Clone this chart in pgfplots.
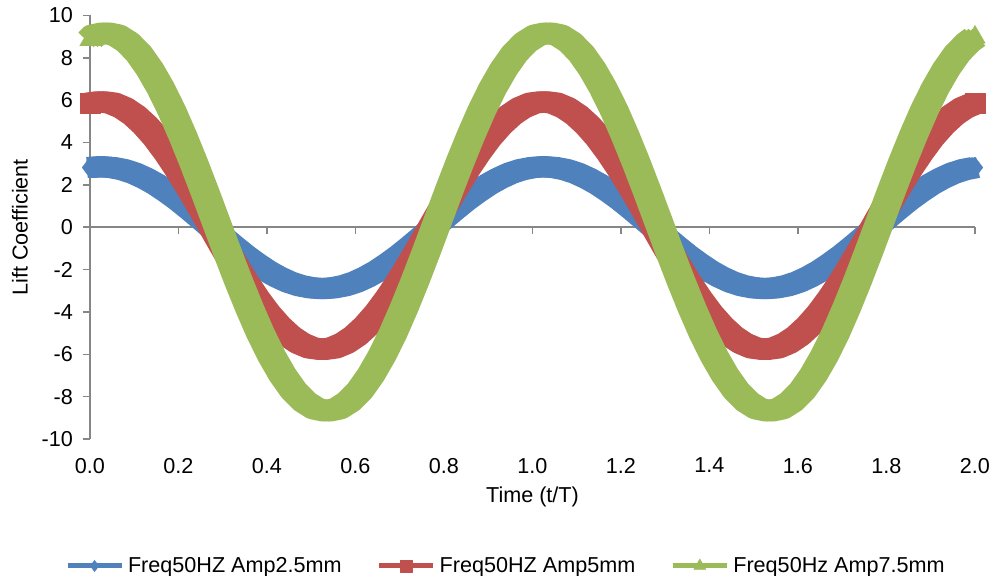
\documentclass[border=0pt]{standalone}
\usepackage{pgfplots}
\pgfplotsset{compat=1.18}
\usepackage{pgfplotstable}
\usepackage{fontspec}
\setmainfont{Liberation Sans}
\definecolor{xblue}{HTML}{4F81BD}
\definecolor{xred}{HTML}{C0504D}
\definecolor{xgreen}{HTML}{9BBB59}
\definecolor{axisgray}{HTML}{868686}
\newcommand{\cf}{\fontsize{10.8}{13}\selectfont}

\pgfplotstableread{
t b r
0.000 2.82 5.86
0.025 2.86 5.93
0.050 2.82 5.86
0.075 2.72 5.64
0.100 2.55 5.29
0.125 2.31 4.81
0.150 2.02 4.22
0.175 1.67 3.52
0.200 1.29 2.74
0.225 0.87 1.89
0.250 0.43 1.00
0.275 -0.02 0.08
0.300 -0.47 -0.84
0.325 -0.91 -1.73
0.350 -1.33 -2.58
0.375 -1.71 -3.36
0.400 -2.06 -4.06
0.425 -2.35 -4.65
0.450 -2.59 -5.13
0.475 -2.76 -5.48
0.500 -2.86 -5.70
0.525 -2.90 -5.77
0.550 -2.86 -5.70
0.575 -2.76 -5.48
0.600 -2.59 -5.13
0.625 -2.35 -4.65
0.650 -2.06 -4.06
0.675 -1.71 -3.36
0.700 -1.33 -2.58
0.725 -0.91 -1.73
0.750 -0.47 -0.84
0.775 -0.02 0.08
0.800 0.43 1.00
0.825 0.87 1.89
0.850 1.29 2.74
0.875 1.67 3.52
0.900 2.02 4.22
0.925 2.31 4.81
0.950 2.55 5.29
0.975 2.72 5.64
1.000 2.82 5.86
1.025 2.86 5.93
1.050 2.82 5.86
1.075 2.72 5.64
1.100 2.55 5.29
1.125 2.31 4.81
1.150 2.02 4.22
1.175 1.67 3.52
1.200 1.29 2.74
1.225 0.87 1.89
1.250 0.43 1.00
1.275 -0.02 0.08
1.300 -0.47 -0.84
1.325 -0.91 -1.73
1.350 -1.33 -2.58
1.375 -1.71 -3.36
1.400 -2.06 -4.06
1.425 -2.35 -4.65
1.450 -2.59 -5.13
1.475 -2.76 -5.48
1.500 -2.86 -5.70
1.525 -2.90 -5.77
1.550 -2.86 -5.70
1.575 -2.76 -5.48
1.600 -2.59 -5.13
1.625 -2.35 -4.65
1.650 -2.06 -4.06
1.675 -1.71 -3.36
1.700 -1.33 -2.58
1.725 -0.91 -1.73
1.750 -0.47 -0.84
1.775 -0.02 0.08
1.800 0.43 1.00
1.825 0.87 1.89
1.850 1.29 2.74
1.875 1.67 3.52
1.900 2.02 4.22
1.925 2.31 4.81
1.950 2.55 5.29
1.975 2.72 5.64
2.000 2.82 5.86
}\tabBR

\pgfplotstableread{
t g
0.000 8.85
0.010 9.07
0.035 9.18
0.060 9.07
0.085 8.74
0.110 8.21
0.135 7.47
0.160 6.56
0.185 5.50
0.210 4.30
0.235 3.01
0.260 1.65
0.285 0.25
0.310 -1.15
0.335 -2.51
0.360 -3.80
0.385 -5.00
0.410 -6.06
0.435 -6.97
0.460 -7.71
0.485 -8.24
0.510 -8.57
0.535 -8.68
0.560 -8.57
0.585 -8.24
0.610 -7.71
0.635 -6.97
0.660 -6.06
0.685 -5.00
0.710 -3.80
0.735 -2.51
0.760 -1.15
0.785 0.25
0.810 1.65
0.835 3.01
0.860 4.30
0.885 5.50
0.910 6.56
0.935 7.47
0.960 8.21
0.985 8.74
1.010 9.07
1.035 9.18
1.060 9.07
1.085 8.74
1.110 8.21
1.135 7.47
1.160 6.56
1.185 5.50
1.210 4.30
1.235 3.01
1.260 1.65
1.285 0.25
1.310 -1.15
1.335 -2.51
1.360 -3.80
1.385 -5.00
1.410 -6.06
1.435 -6.97
1.460 -7.71
1.485 -8.24
1.510 -8.57
1.535 -8.68
1.560 -8.57
1.585 -8.24
1.610 -7.71
1.635 -6.97
1.660 -6.06
1.685 -5.00
1.710 -3.80
1.735 -2.51
1.760 -1.15
1.785 0.25
1.810 1.65
1.835 3.01
1.860 4.30
1.885 5.50
1.910 6.56
1.935 7.47
1.960 8.21
1.985 8.74
2.000 8.97
}\tabG

\pgfplotsset{
  band/.style={line width=10.5pt, line join=round, line cap=butt},
}

\begin{document}
\begin{tikzpicture}
\useasboundingbox (-45pt,-68.5pt) rectangle (454pt,219.5pt);
\begin{axis}[
  scale only axis,
  width=442.5pt, height=211.75pt,
  xmin=0, xmax=2, ymin=-10, ymax=10,
  clip=false,
  axis y line*=left,
  axis x line*=bottom,
  x axis line style={draw=none},
  y axis line style={draw=axisgray, line width=0.75pt},
  xtick={0,0.2,0.4,0.6,0.8,1.0,1.2,1.4,1.6,1.8,2.0},
  ytick={-10,-8,-6,-4,-2,0,2,4,6,8,10},
  x tick style={draw=none},
  y tick style={draw=axisgray, line width=0.75pt},
  tick align=outside,
  major tick length=3.5pt,
  /pgf/number format/assume math mode=true,
  xticklabel style={font=\cf, yshift=-2.5pt, /pgf/number format/.cd, fixed, fixed zerofill, precision=1},
  yticklabel style={font=\cf, xshift=-1.5pt},
  every axis x label/.style={at={(axis description cs:0.5,0)}, yshift=-29pt, anchor=center, font=\cf},
  every axis y label/.style={at={(axis description cs:0,0.5)}, xshift=-35pt, rotate=90, anchor=center, font=\cf},
  xlabel={Time (t/T)},
  ylabel={Lift Coefficient},
  legend columns=3,
  legend cell align=left,
  legend style={draw=none, fill=none, font=\cf,
    at={(axis description cs:0.471,0)}, yshift=-63.5pt, anchor=center,
    /tikz/every even column/.append style={column sep=15.5pt}},
]
\draw[axisgray, line width=0.75pt] (axis cs:0,0) -- (axis cs:2,0);
\pgfplotsinvokeforeach{0.2,0.4,0.6,0.8,1.0,1.2,1.4,1.6,1.8,2.0}{
  \draw[axisgray, line width=0.75pt] (axis cs:#1,0) -- ++(0pt,-3.5pt);
}
% blue
\addplot[color=xblue, band, xshift=-1.5pt, forget plot] table[x=t, y=b] {\tabBR};
\addplot[color=xblue, band, xshift=1.5pt, forget plot] table[x=t, y=b] {\tabBR};
\addplot[color=xblue, band, mark=diamond*, mark size=5.3pt, mark indices={1,81},
  mark options={solid, line width=0.1pt, draw=xblue, fill=xblue},
  legend image code/.code={\draw[line width=2.5pt, mark indices={2}, mark size=2.9pt, mark options={line width=0.1pt}] plot coordinates {(0pt,0pt) (13.5pt,0pt) (27pt,0pt)};}]
  table[x=t, y=b] {\tabBR};
\addlegendentry{Freq50HZ Amp2.5mm}
% red
\addplot[color=xred, band, xshift=-2pt, forget plot] table[x=t, y=r] {\tabBR};
\addplot[color=xred, band, xshift=2pt, forget plot] table[x=t, y=r] {\tabBR};
\addplot[color=xred, band, mark=square*, mark size=5pt, mark indices={1,81},
  mark options={solid, line width=0.1pt, draw=xred, fill=xred},
  legend image code/.code={\draw[line width=2.5pt, mark indices={2}, mark size=3pt, mark options={line width=0.1pt}] plot coordinates {(0pt,0pt) (13.5pt,0pt) (27pt,0pt)};}]
  table[x=t, y=r] {\tabBR};
\addlegendentry{Freq50HZ Amp5mm}
% green
\addplot[color=xgreen, band, xshift=-2pt, forget plot] table[x=t, y=g] {\tabG};
\addplot[color=xgreen, band, xshift=2pt, forget plot] table[x=t, y=g] {\tabG};
\addplot[color=xgreen, band, mark=triangle*, mark size=6pt, mark indices={1,82},
  mark options={solid, line width=0.1pt, draw=xgreen, fill=xgreen},
  legend image code/.code={\draw[line width=2.5pt, mark indices={2}, mark size=3.6pt, mark options={line width=0.1pt}] plot coordinates {(0pt,0pt) (13.5pt,0pt) (27pt,0pt)};}]
  table[x=t, y=g] {\tabG};
\addlegendentry{Freq50Hz Amp7.5mm}
\end{axis}
\end{tikzpicture}
\end{document}
